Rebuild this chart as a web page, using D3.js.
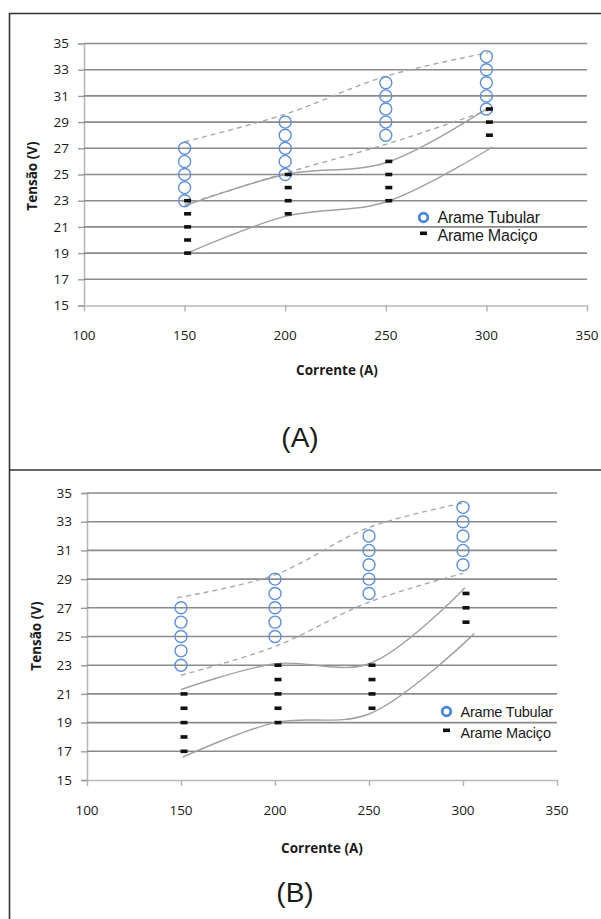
<!DOCTYPE html>
<html>
<head>
<meta charset="utf-8">
<script src="https://cdn.jsdelivr.net/npm/d3@7"></script>
<style>
    body { margin: 0; background: #fff; }
    svg text { font-family: 'Open Sans', sans-serif; fill: #1a1a1a; }
</style>
</head>
<body>
<div id="chart"></div>
<script>

// values
const currents = [150, 200, 250, 300];
const xTicks = [100, 150, 200, 250, 300, 350];
const yTicks = [15, 17, 19, 21, 23, 25, 27, 29, 31, 33, 35];

// Arame Tubular / Arame Maciço voltages at each current
const tubularA = [[23, 24, 25, 26, 27], [25, 26, 27, 28, 29], [28, 29, 30, 31, 32], [30, 31, 32, 33, 34]];
const macicoA  = [[19, 20, 21, 22, 23], [22, 23, 24, 25], [23, 24, 25, 26], [28, 29, 30]];
const tubularB = [[23, 24, 25, 26, 27], [25, 26, 27, 28, 29], [28, 29, 30, 31, 32], [30, 31, 32, 33, 34]];
const macicoB  = [[17, 18, 19, 20, 21], [19, 20, 21, 22, 23], [20, 21, 22, 23], [26, 27, 28]];

// envelope curves [current, voltage]
const tubUpperA = [[150, 27.5], [200, 29.6], [250, 32.5], [301, 34.3]];
const tubLowerA = [[150, 22.7], [200, 25.1], [250, 27.3], [301, 29.9]];
const macUpperA = [[150, 22.6], [200, 25.0], [250, 25.9], [301, 30.1]];
const macLowerA = [[151.5, 19.0], [200, 21.8], [250, 22.9], [303, 27.1]];

const tubUpperB = [[148, 27.7], [200, 29.3], [250, 32.6], [300, 34.3]];
const tubLowerB = [[150, 22.3], [200, 24.3], [250, 27.4], [300, 29.4]];
const macUpperB = [[150, 21.3], [200, 23.1], [250, 23.1], [301, 28.4]];
const macLowerB = [[151, 16.6], [200, 19.0], [250, 19.6], [306, 25.2]];

const seriesNames = ['Arame Tubular', 'Arame Maciço'];

const W = 601, H = 919;
const blue = '#5b8fda';

const svg = d3.select('#chart').append('svg')
    .attr('width', W)
    .attr('height', H);

// outer frame of the figure
svg.append('path')
    .attr('d', 'M601,13.5 H9.5 V919 M9.5,470 H601')
    .attr('fill', 'none')
    .attr('stroke', '#333')
    .attr('stroke-width', 1.6);

const panels = [
    {
        tubular: tubularA, macico: macicoA,
        curves: [tubUpperA, tubLowerA, macUpperA, macLowerA],
        x: [84, 587], y: [305.5, 43.5],
        yLabelX: 69, xLabelY: 335, xTitle: [337, 370], yTitle: [32, 176],
        tag: '(A)', tagPos: [300, 437],
        legend: [423.5, 217.5, 18, 16]
    },
    {
        tubular: tubularB, macico: macicoB,
        curves: [tubUpperB, tubLowerB, macUpperB, macLowerB],
        x: [87, 557], y: [780, 493],
        yLabelX: 72, xLabelY: 810, xTitle: [322, 848], yTitle: [36, 636],
        tag: '(B)', tagPos: [295, 892],
        legend: [446.5, 711.5, 21, 14.5]
    }
];

function toPoints(groups) {
    const pts = [];
    groups.forEach((vals, i) => vals.forEach((v) => pts.push({ x: currents[i], y: v })));
    return pts;
}

function drawPanel(p) {
    const g = svg.append('g');

    const xScale = d3.scaleLinear().domain([100, 350]).range(p.x);
    const yScale = d3.scaleLinear().domain([15, 35]).range(p.y);

    // gridlines + y ticks
    const yAxis = g.append('g')
        .attr('transform', 'translate(' + p.x[0] + ',0)')
        .call(d3.axisLeft(yScale).tickValues(yTicks).tickSize(6).tickFormat(''));
    yAxis.select('.domain').attr('stroke', '#b8b8b8').attr('stroke-width', 1.6);
    yAxis.selectAll('.tick line').attr('stroke', '#9a9a9a').attr('stroke-width', 1.4);

    g.append('g')
        .selectAll('line')
        .data(yTicks.slice(1))
        .enter().append('line')
        .attr('x1', p.x[0])
        .attr('x2', p.x[1])
        .attr('y1', (d) => yScale(d))
        .attr('y2', (d) => yScale(d))
        .attr('stroke', '#8a8a8a')
        .attr('stroke-width', 1.6);

    const xAxis = g.append('g')
        .attr('transform', 'translate(0,' + p.y[0] + ')')
        .call(d3.axisBottom(xScale).tickValues(xTicks).tickSize(6).tickSizeOuter(0).tickFormat(''));
    xAxis.select('.domain').attr('stroke', '#b8b8b8').attr('stroke-width', 1.6);
    xAxis.selectAll('.tick line').attr('stroke', '#b0b0b0').attr('stroke-width', 1.4);

    // tick labels
    g.append('g')
        .selectAll('text')
        .data(yTicks)
        .enter().append('text')
        .attr('x', p.yLabelX)
        .attr('y', (d) => yScale(d))
        .attr('dy', '0.35em')
        .attr('text-anchor', 'end')
        .style('font-size', '13.5px')
        .text((d) => d);

    g.append('g')
        .selectAll('text')
        .data(xTicks)
        .enter().append('text')
        .attr('x', (d) => xScale(d))
        .attr('y', p.xLabelY)
        .attr('dy', '0.35em')
        .attr('text-anchor', 'middle')
        .style('font-size', '13.5px')
        .text((d) => d);

    // axis titles
    g.append('text')
        .attr('x', p.xTitle[0])
        .attr('y', p.xTitle[1])
        .attr('dy', '0.35em')
        .attr('text-anchor', 'middle')
        .style('font-size', '13.5px')
        .style('font-weight', 'bold')
        .text('Corrente (A)');

    g.append('text')
        .attr('transform', 'translate(' + p.yTitle[0] + ',' + p.yTitle[1] + ') rotate(-90)')
        .attr('dy', '0.35em')
        .attr('text-anchor', 'middle')
        .style('font-size', '13.5px')
        .style('font-weight', 'bold')
        .text('Tensão (V)');

    g.append('text')
        .attr('x', p.tagPos[0])
        .attr('y', p.tagPos[1])
        .attr('dy', '0.35em')
        .attr('text-anchor', 'middle')
        .style('font-family', "'Liberation Sans', Arial, sans-serif")
        .style('font-size', '28px')
        .text(p.tag);

    // envelope curves
    const line = d3.line()
        .x((d) => xScale(d[0]))
        .y((d) => yScale(d[1]))
        .curve(d3.curveCatmullRom.alpha(0.5));

    g.selectAll('path.curve')
        .data(p.curves)
        .enter().append('path')
        .attr('class', 'curve')
        .attr('d', line)
        .attr('fill', 'none')
        .attr('stroke', (d, i) => i < 2 ? '#a8a8a8' : '#a0a0a0')
        .attr('stroke-width', 1.4)
        .attr('stroke-dasharray', (d, i) => i < 2 ? '5,4' : null);

    // Arame Tubular: hollow circles
    g.append('g')
        .selectAll('circle')
        .data(toPoints(p.tubular))
        .enter().append('circle')
        .attr('cx', (d) => xScale(d.x))
        .attr('cy', (d) => yScale(d.y))
        .attr('r', 6)
        .attr('fill', 'none')
        .attr('stroke', blue)
        .attr('stroke-width', 1.4);

    // Arame Maciço: short black dashes, drawn a little right of the circles
    g.append('g')
        .attr('transform', 'translate(3,0)')
        .selectAll('rect')
        .data(toPoints(p.macico))
        .enter().append('rect')
        .attr('x', (d) => xScale(d.x) - 3.5)
        .attr('y', (d) => yScale(d.y) - 1.8)
        .attr('width', 7)
        .attr('height', 3.6)
        .attr('fill', '#111');

    // legend
    const [lx, ly, gap, fs] = p.legend;
    const legend = g.selectAll('.legend')
        .data(seriesNames)
        .enter().append('g')
        .attr('class', 'legend')
        .attr('transform', (d, i) => 'translate(' + lx + ',' + (ly + i * gap) + ')');

    legend.filter((d, i) => i === 0).append('circle')
        .attr('r', 4.3)
        .attr('fill', '#fff')
        .attr('stroke', '#4a86db')
        .attr('stroke-width', 2.8);

    legend.filter((d, i) => i === 1).append('rect')
        .attr('x', -3.5)
        .attr('y', -4)
        .attr('width', 7)
        .attr('height', 3.6)
        .attr('fill', '#111');

    legend.append('text')
        .attr('x', 14)
        .attr('dy', '0.35em')
        .style('font-family', "'Liberation Sans', Arial, sans-serif")
        .style('font-size', fs + 'px')
        .style('letter-spacing', '-0.2px')
        .text((d) => d);
}

panels.forEach(drawPanel);
</script>
</body>
</html>
